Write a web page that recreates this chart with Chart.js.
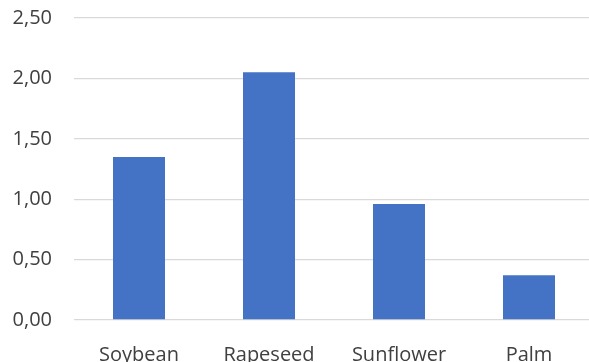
<!DOCTYPE html>
<html>
<head>
<meta charset="utf-8">
<script src="https://cdn.jsdelivr.net/npm/chart.js@4"></script>
<style>
  html, body { margin: 0; padding: 0; background: #fff; overflow: hidden; }
  #wrap { width: 594px; height: 362px; }
</style>
</head>
<body>
<div id="wrap"><canvas id="chart"></canvas></div>
<script>
const categories = ["Soybean", "Rapeseed", "Sunflower", "Palm"];
const values = [1.35, 2.05, 0.96, 0.37];
const yTicks = [0, 0.5, 1, 1.5, 2, 2.5];

const FONT = { family: "'Open Sans', 'Noto Sans', sans-serif", size: 20 };
const TEXT = "#404040";
const GRID = "#d9d9d9";

new Chart(document.getElementById("chart"), {
  type: "bar",
  data: {
    labels: categories,
    datasets: [{
      data: values,
      backgroundColor: "#4472C4",
      barPercentage: 0.4,
      categoryPercentage: 1,
    }],
  },
  options: {
    responsive: true,
    maintainAspectRatio: false,
    animation: false,
    layout: { padding: { top: 18, right: 0, left: 0, bottom: 0 } },
    plugins: { legend: { display: false }, tooltip: { enabled: false } },
    scales: {
      x: {
        grid: { display: false },
        border: { display: false },
        ticks: { color: TEXT, font: FONT, padding: 15, maxRotation: 0 },
        afterFit(scale) { scale.height = 42; },
      },
      y: {
        min: 0,
        max: yTicks[yTicks.length - 1],
        afterBuildTicks(scale) { scale.ticks = yTicks.map(v => ({ value: v })); },
        grid: { color: GRID, lineWidth: 1.3, drawTicks: false },
        border: { display: false },
        ticks: {
          color: TEXT,
          font: FONT,
          padding: 22,
          callback: v => Number(v).toFixed(2).replace(".", ","),
        },
        afterFit(scale) {
          scale.width = 74;
          scale.paddingTop = 0;
          scale.paddingBottom = 0;
        },
      },
    },
  },
});
</script>
</body>
</html>
